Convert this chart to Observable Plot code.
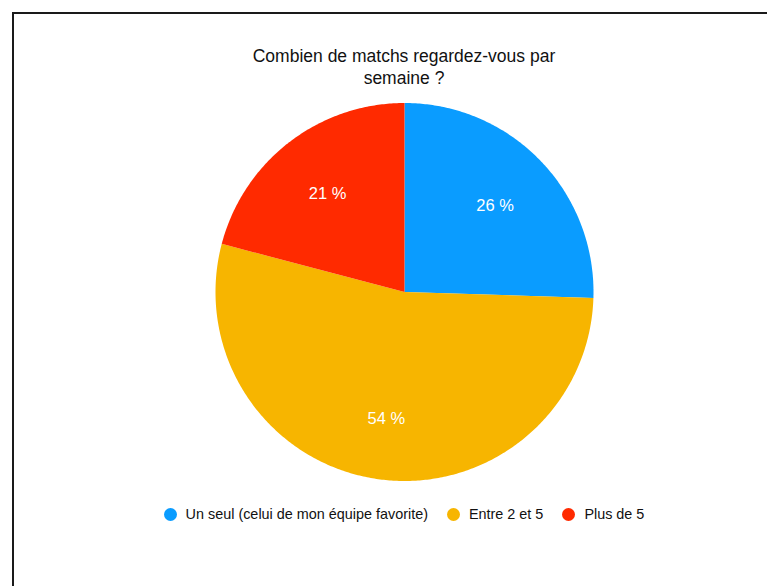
<!DOCTYPE html>
<html>
<head>
<meta charset="utf-8">
<script src="https://cdn.jsdelivr.net/npm/d3@7"></script>
<script src="https://cdn.jsdelivr.net/npm/@observablehq/plot@0.6"></script>
<style>
  html, body { margin: 0; padding: 0; background: #fff; overflow: hidden; }
  body { width: 767px; height: 586px; position: relative; font-family: "Liberation Sans", Arial, Helvetica, sans-serif; }
  #frame { position: absolute; left: 12px; top: 12px; width: 820px; height: 640px; border: 2px solid #1a1a1a; box-sizing: border-box; }
  #title { position: absolute; left: 0; width: 808px; top: 45px; text-align: center; font-size: 17.5px; line-height: 22px; color: #111; }
  #title span { display: inline-block; width: 340px; }
  #chart { position: absolute; left: 0; top: 0; }
  #legend { position: absolute; left: 0; top: 506px; width: 808px; display: flex; justify-content: center; align-items: center; font-size: 14.4px; color: #111; }
  .item { display: flex; align-items: center; margin: 0 9.5px; }
  .dot { width: 13px; height: 13px; border-radius: 50%; margin-right: 9px; }
</style>
</head>
<body>
<div id="frame"></div>
<div id="title"><span>Combien de matchs regardez-vous par semaine ?</span></div>
<div id="chart"></div>
<div id="legend"></div>
<script>
const categories = ["Un seul (celui de mon équipe favorite)", "Entre 2 et 5", "Plus de 5"];
const values = [25.5, 53.6, 20.9];
const colors = ["#0A9CFF", "#F7B500", "#FF2A00"];

const cx = 404, cy = 291.5, R = 189;

const pie = d3.pie().sort(null).value(d => d.value);
const arcs = pie(categories.map((c, i) => ({category: c, value: values[i]})));

const slicePts = [];
const labels = [];
arcs.forEach(a => {
  const n = Math.max(8, Math.ceil((a.endAngle - a.startAngle) / 0.01));
  slicePts.push({category: a.data.category, x: 0, y: 0});
  for (let k = 0; k <= n; k++) {
    const t = a.startAngle + (a.endAngle - a.startAngle) * k / n;
    slicePts.push({category: a.data.category, x: Math.sin(t), y: Math.cos(t)});
  }
  slicePts.push({category: a.data.category, x: 0, y: 0});
  const m = (a.startAngle + a.endAngle) / 2;
  labels.push({x: Math.sin(m) * 0.667, y: Math.cos(m) * 0.667, text: Math.round(a.data.value) + " %"});
});

const plot = Plot.plot({
  width: 767,
  height: 586,
  margin: 0,
  x: {domain: [-1, 1], range: [cx - R, cx + R], axis: null},
  y: {domain: [-1, 1], range: [cy + R, cy - R], axis: null},
  color: {domain: categories, range: colors},
  style: {background: "transparent", fontFamily: "'Liberation Sans', Arial, Helvetica, sans-serif"},
  marks: [
    Plot.line(slicePts, {x: "x", y: "y", z: "category", fill: "category", stroke: "none", curve: "linear"}),
    Plot.text(labels, {x: "x", y: "y", text: "text", fill: "white", fontSize: 16.5, dy: 1.5})
  ]
});
document.getElementById("chart").appendChild(plot);

const legend = document.getElementById("legend");
categories.forEach((c, i) => {
  const it = document.createElement("div");
  it.className = "item";
  it.innerHTML = `<span class="dot" style="background:${colors[i]}"></span><span>${c}</span>`;
  legend.appendChild(it);
});
</script>
</body>
</html>
